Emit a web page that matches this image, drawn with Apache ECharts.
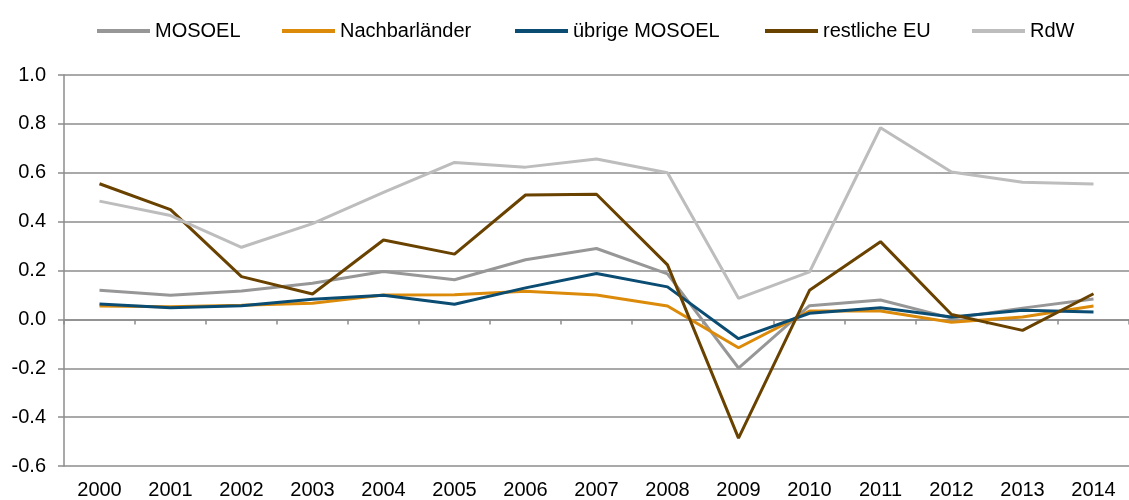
<!DOCTYPE html>
<html>
<head>
<meta charset="utf-8">
<script src="https://cdn.jsdelivr.net/npm/echarts@6/dist/echarts.min.js"></script>
<style>
  html, body { margin: 0; padding: 0; background: #fff; }
  #chart { width: 1129px; height: 500px; }
</style>
</head>
<body>
<div id="chart"></div>
<script>
const years = ['2000', '2001', '2002', '2003', '2004', '2005', '2006', '2007', '2008', '2009', '2010', '2011', '2012', '2013', '2014']

const mosoel = [0.119, 0.099, 0.116, 0.148, 0.196, 0.162, 0.244, 0.290, 0.186, -0.199, 0.056, 0.079, 0.005, 0.046, 0.083]
const nachbarlaender = [0.055, 0.052, 0.058, 0.066, 0.100, 0.101, 0.115, 0.100, 0.055, -0.116, 0.034, 0.034, -0.012, 0.010, 0.055]
const uebrigeMosoel = [0.063, 0.048, 0.056, 0.082, 0.099, 0.062, 0.129, 0.188, 0.133, -0.079, 0.025, 0.048, 0.010, 0.037, 0.030]
const restlicheEU = [0.555, 0.449, 0.175, 0.104, 0.325, 0.267, 0.509, 0.512, 0.223, -0.486, 0.119, 0.318, 0.020, -0.045, 0.105]
const rdw = [0.484, 0.425, 0.295, 0.392, 0.520, 0.642, 0.623, 0.656, 0.600, 0.086, 0.194, 0.784, 0.603, 0.561, 0.554]

const yMin = -0.6
const yMax = 1.0
const yStep = 0.2

const seriesDefs = [
  { name: 'MOSOEL', data: mosoel, color: '#979797', legendLeft: 92 },
  { name: 'Nachbarländer', data: nachbarlaender, color: '#DC8A0A', legendLeft: 277 },
  { name: 'übrige MOSOEL', data: uebrigeMosoel, color: '#0B4C73', legendLeft: 510 },
  { name: 'restliche EU', data: restlicheEU, color: '#6A4200', legendLeft: 760 },
  { name: 'RdW', data: rdw, color: '#BDBDBD', legendLeft: 967 }
]

const font = 'Liberation Sans, Arial, sans-serif'
const gridColor = '#8c8c8c'

const chart = echarts.init(document.getElementById('chart'))

const option = {
  animation: false,
  backgroundColor: '#fff',
  textStyle: { fontFamily: font },
  // one legend per item so each sits where it does in the original
  legend: seriesDefs.map(s => ({
    data: [s.name],
    left: s.legendLeft,
    top: 16,
    icon: 'rect',
    itemWidth: 53,
    itemHeight: 4,
    textStyle: { fontSize: 20, color: '#000', fontFamily: font }
  })),
  grid: { left: 64, top: 75, width: 1070, height: 391 },
  xAxis: [
    {
      type: 'category',
      data: years,
      boundaryGap: true,
      axisLine: { onZero: true, lineStyle: { color: gridColor, width: 1.5 } },
      axisTick: { show: true, length: 5, lineStyle: { color: gridColor, width: 1.5 } },
      axisLabel: { show: false },
      splitLine: { show: false }
    },
    {
      type: 'category',
      data: years,
      boundaryGap: true,
      position: 'bottom',
      axisLine: { show: false, onZero: false },
      axisTick: { show: false },
      axisLabel: { show: true, color: '#000', fontSize: 20, fontFamily: font, margin: 14, interval: 0 },
      splitLine: { show: false }
    }
  ],
  yAxis: {
    type: 'value',
    min: yMin,
    max: yMax,
    interval: yStep,
    axisLine: { show: true, lineStyle: { color: gridColor, width: 1.5 } },
    axisTick: { show: true, length: 6, lineStyle: { color: gridColor, width: 1.5 } },
    axisLabel: {
      color: '#000',
      fontSize: 20,
      fontFamily: font,
      margin: 18,
      formatter: v => v.toFixed(1)
    },
    splitLine: { show: true, lineStyle: { color: gridColor, width: 1.5 } }
  },
  series: seriesDefs.map(s => ({
    name: s.name,
    type: 'line',
    xAxisIndex: 0,
    data: s.data,
    showSymbol: false,
    symbol: 'none',
    lineStyle: { color: s.color, width: 3 },
    itemStyle: { color: s.color }
  }))
}

chart.setOption(option)
</script>
</body>
</html>
